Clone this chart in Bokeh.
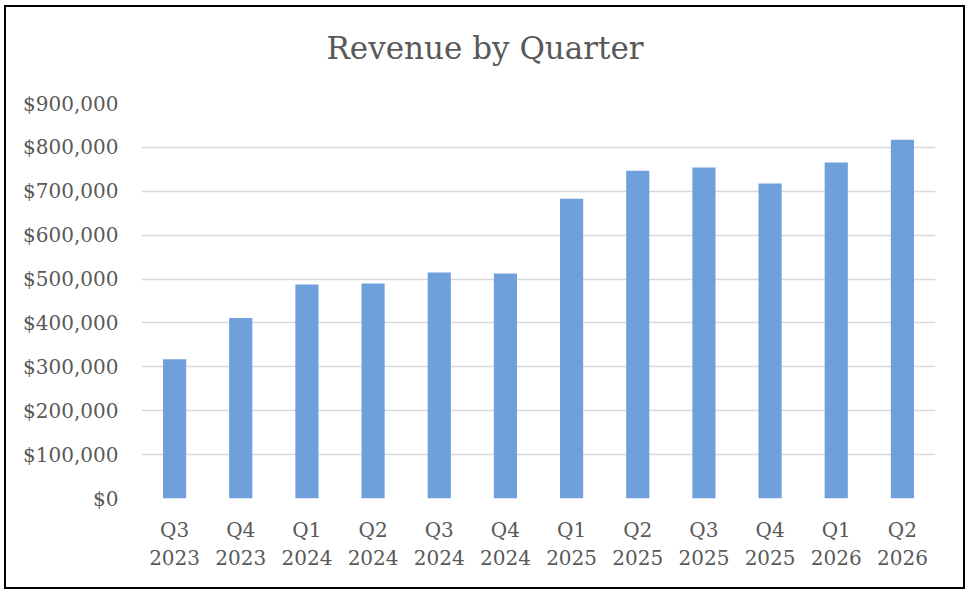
from bokeh.plotting import figure
from bokeh.models import FactorRange, Range1d, FixedTicker, NumeralTickFormatter, Title
from bokeh.embed import file_html
from bokeh.resources import INLINE

quarters = ["Q3\n2023", "Q4\n2023", "Q1\n2024", "Q2\n2024", "Q3\n2024", "Q4\n2024",
            "Q1\n2025", "Q2\n2025", "Q3\n2025", "Q4\n2025", "Q1\n2026", "Q2\n2026"]
revenue = [317000, 411000, 487500, 489800, 514800, 512500,
           683000, 747000, 754000, 717500, 765500, 817500]
y_ticks = [0, 100000, 200000, 300000, 400000, 500000, 600000, 700000, 800000, 900000]

FONT = "DejaVu Serif"
TXT = "#595959"

p = figure(width=961, height=584, x_range=FactorRange(factors=quarters),
           y_range=Range1d(0, 900000), output_backend="svg", toolbar_location=None,
           min_border_left=135, min_border_right=32, min_border_top=96, min_border_bottom=93)
p.styles = {"border": "2px solid black", "margin-left": "4px", "margin-top": "5px"}

p.vbar(x=quarters, top=revenue, width=0.35, color="#6FA0DC", line_color=None)

spacer = Title(text=" ", text_font_size="1px", standoff=29)
p.add_layout(spacer, "above")
t = Title(text="Revenue by Quarter", align="left", offset=185, text_font=FONT,
          text_font_size="31px", text_color=TXT, text_font_style="normal",
          standoff=10, vertical_align="middle")
p.add_layout(t, "above")

p.outline_line_color = None
p.xgrid.grid_line_color = None
p.ygrid.grid_line_color = "#D9D9D9"
p.ygrid.grid_line_width = 1.3

p.yaxis.ticker = FixedTicker(ticks=y_ticks)
p.yaxis.formatter = NumeralTickFormatter(format="$0,0")
for ax in (p.xaxis, p.yaxis):
    ax.axis_line_color = None
    ax.major_tick_line_color = None
    ax.minor_tick_line_color = None
    ax.major_tick_out = 0
    ax.major_tick_in = 0
    ax.major_label_text_font = FONT
    ax.major_label_text_font_size = "20px"
    ax.major_label_text_color = TXT
p.yaxis.major_label_standoff = 23
p.xaxis.major_label_standoff = 19
p.xaxis.major_label_text_line_height = 1.2

open("out.html", "w").write(file_html(p, INLINE))
